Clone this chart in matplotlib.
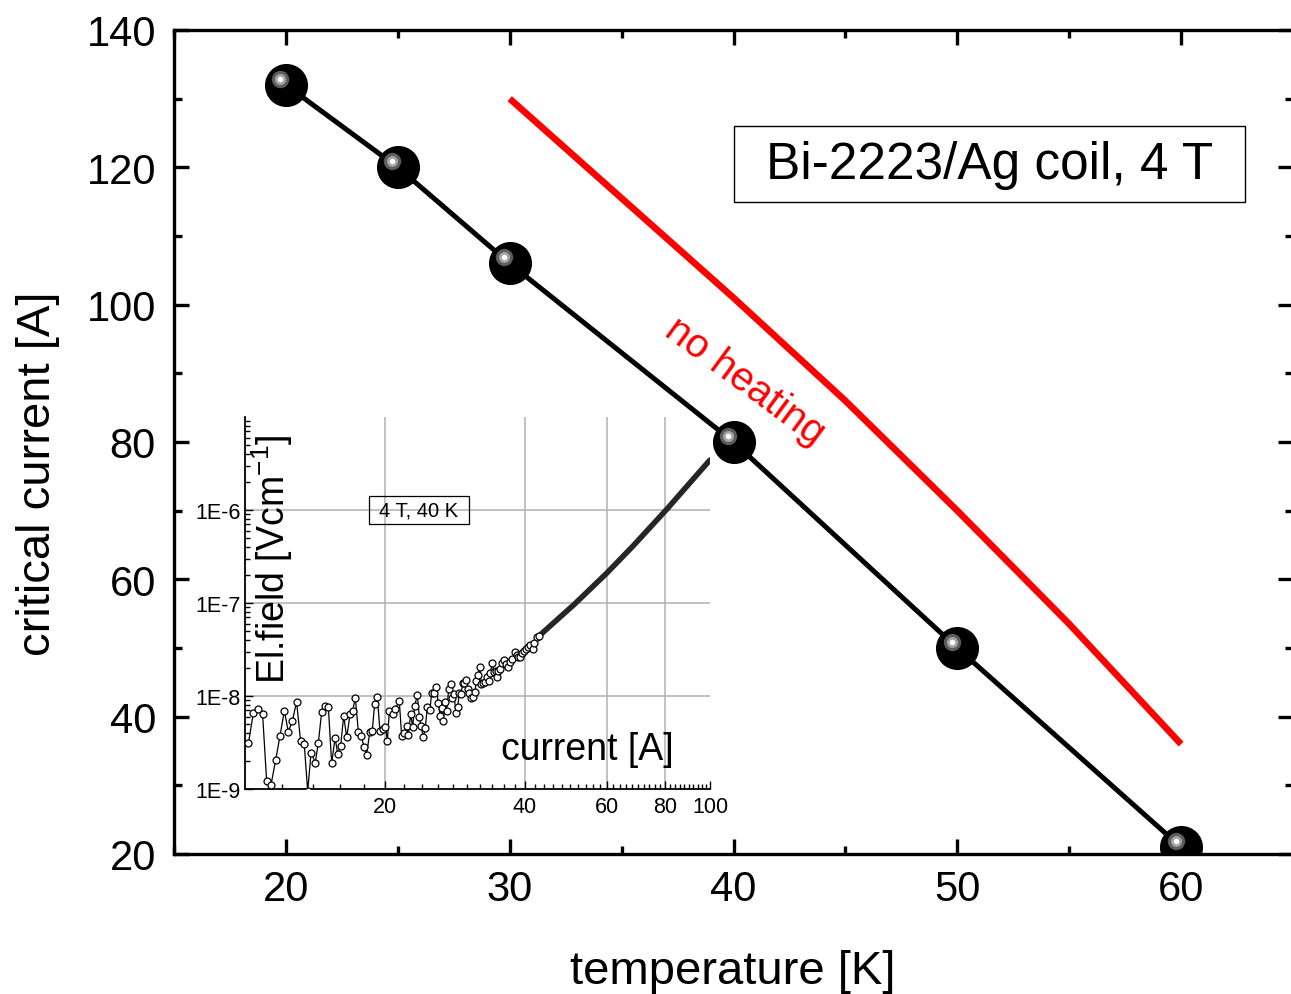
import matplotlib
matplotlib.use("Agg")
import matplotlib.pyplot as plt
import matplotlib.transforms as mtransforms
import numpy as np
from matplotlib.patches import Rectangle

plt.rcParams["font.family"] = ["Liberation Sans", "DejaVu Sans"]
plt.rcParams["mathtext.default"] = "regular"

# main plot: critical current vs temperature
temperature = [20, 25, 30, 40, 50, 60]
critical_current = [132, 120, 106, 80, 50, 21]

# "no heating" curve
nh_temperature = [30, 35, 40, 45, 50, 55, 60]
nh_current = [130, 115.5, 101, 86, 70, 53.5, 36]

# inset: E(I) at 4 T, 40 K  (field values in 1e-9 V/cm)
iv_current_noisy = [
    10.17, 10.42, 10.68, 10.91, 11.13, 11.37, 11.64, 11.89, 12.15, 12.39,
    12.64, 12.91, 13.17, 13.41, 13.64, 13.87, 14.16, 14.38, 14.62, 14.86,
    15.11, 15.36, 15.62, 15.83, 16.06, 16.30, 16.55, 16.82, 17.04, 17.27,
    17.53, 17.79, 18.03, 18.26, 18.54, 18.78, 19.00, 19.25, 19.51, 19.77,
    20.04, 20.24, 20.44,
    20.78, 21.02, 21.47, 21.72, 22.01, 22.27, 22.45, 22.71, 22.94, 23.17,
    23.47, 23.71, 23.90, 24.18, 24.42, 24.66, 24.99, 25.19, 25.54, 25.75,
    26.05, 26.27, 26.48, 26.70, 26.92, 27.15, 27.42, 27.69, 27.92, 28.15,
    28.43, 28.67, 28.91, 29.14, 29.39, 29.63, 29.92, 30.12, 30.37, 30.57,
    30.87, 31.23, 31.44, 31.70, 31.97, 32.23, 32.55, 32.87, 33.20, 33.42,
    33.65, 34.04, 34.26, 34.60, 34.77, 35.06, 35.35, 35.70, 36.06, 36.42,
    36.72, 37.15, 37.58, 38.07, 38.39, 38.71, 39.03, 39.36, 39.81, 40.21,
    40.61, 41.01, 41.56, 41.90, 42.39, 42.89,
]
iv_field_noisy_nV = [
    3.10, 6.51, 7.19, 6.40, 1.23, 1.10, 2.05, 3.71, 6.95, 4.14,
    5.34, 8.69, 3.25, 3.05, 0.94, 2.46, 1.92, 3.15, 6.78, 7.81,
    7.55, 1.89, 3.54, 2.38, 2.92, 6.10, 3.59, 6.35, 6.90, 9.60,
    4.14, 3.71, 2.81, 2.32, 4.07, 4.20, 8.20, 9.83, 4.24, 4.42,
    4.68, 3.31, 6.90,
    6.35, 7.19, 8.84, 3.71, 4.03, 4.76, 3.78, 6.35, 4.68, 7.81,
    10.3, 5.99, 4.76, 3.59, 4.53, 7.55, 7.01, 10.7, 10.7, 12.4,
    8.48, 6.14, 7.37, 5.38, 8.69, 6.95, 11.8, 13.4, 9.44, 10.5,
    6.51, 7.68, 10.9, 10.5, 13.7, 13.9, 14.9, 11.8, 10.9, 9.44,
    9.83, 11.1, 14.6, 16.8, 20.7, 13.4, 13.9, 14.3, 15.9, 14.5,
    17.5, 22.5, 18.3, 18.7, 16.1, 18.7, 19.3, 22.8, 24.4, 22.1,
    20.7, 23.4, 24.8, 29.5, 27.6, 26.0, 26.5, 28.8, 30.5, 32.3,
    33.9, 35.3, 31.8, 37.5, 42.7, 44.2,
]
iv_current_smooth = [42.89, 46.4, 51.1, 60.0, 68.3, 80.9, 89.7, 100.0]
iv_field_smooth = [4.42e-8, 6.3e-8, 9.7e-8, 2.1e-7, 4.1e-7, 1.03e-6, 1.86e-6, 3.45e-6]

main_xticks = [20, 30, 40, 50, 60]
main_yticks = [20, 40, 60, 80, 100, 120, 140]
inset_xticks = [20, 40, 60, 80, 100]
inset_xlabels = ["20", "40", "60", "80", "100"]
inset_yticks = [1e-9, 1e-8, 1e-7, 1e-6]
inset_ylabels = ["1E-9", "1E-8", "1E-7", "1E-6"]

W, H = 1291, 995
fig = plt.figure(figsize=(W / 100, H / 100), dpi=100)


def fx(px):
    return px / W


def fy(py):
    return 1 - py / H


# ---- main axes
ax = fig.add_axes([fx(174), fy(855), fx(1293) - fx(174), fy(31) - fy(855)])
ax.set_xlim(15, 65)
ax.set_ylim(20, 140)
ax.set_xticks(main_xticks)
ax.set_xticks([15, 25, 35, 45, 55, 65], minor=True)
ax.set_yticks(main_yticks)
ax.set_yticks([30, 50, 70, 90, 110, 130], minor=True)
for s in ax.spines.values():
    s.set_linewidth(2.4)
ax.tick_params(which="both", direction="in", top=True, right=True, width=2.4,
               labelsize=30)
ax.tick_params(which="major", length=11)
ax.tick_params(which="minor", length=6)
ax.tick_params(axis="x", pad=11)
ax.tick_params(axis="y", pad=13)

ax.plot(nh_temperature, nh_current, color="#ff0000", lw=4.8, zorder=2,
        solid_capstyle="butt")
ax.plot(temperature, critical_current, color="black", lw=3.6, zorder=3)
ax.plot(temperature, critical_current, "o", ms=30, color="black", zorder=4)

shift = mtransforms.ScaledTranslation(-5.5 / 100, 6.3 / 100, fig.dpi_scale_trans)
hl = ax.transData + shift
ax.plot(temperature, critical_current, "o", ms=12.5, color="#5c5c5c", mew=0,
        transform=hl, zorder=5)
ax.plot(temperature, critical_current, "o", ms=8, color="#a4a4a4", mew=0,
        transform=hl, zorder=6)
ax.plot(temperature, critical_current, "o", ms=4, color="white", mew=0,
        transform=hl, zorder=7)

fig.text(fx(745), fy(382), "no heating", color="#ff0000", fontsize=29,
         rotation=-36.5, ha="center", va="center", rotation_mode="anchor")

fig.patches.append(Rectangle((fx(734), fy(203)), fx(1245) - fx(734),
                             fy(127) - fy(203), transform=fig.transFigure,
                             fill=False, edgecolor="black", lw=1.0))
fig.text(fx(990), fy(166), "Bi-2223/Ag coil, 4 T", fontsize=37,
         ha="center", va="center")

fig.text(fx(733), fy(984), "temperature [K]", fontsize=34, ha="center",
         va="baseline")
fig.text(fx(50), fy(474), "critical current [A]", fontsize=34, rotation=90,
         ha="center", va="baseline", rotation_mode="anchor")

# ---- inset axes
ai = fig.add_axes([fx(245), fy(790), fx(710) - fx(245), fy(418) - fy(790)])
ai.set_facecolor("none")
ai.set_xscale("log")
ai.set_yscale("log")
ai.set_xlim(10, 100)
ai.set_ylim(1e-9, 1e-5)
ai.spines["top"].set_visible(False)
ai.spines["right"].set_visible(False)
for s in ("left", "bottom"):
    ai.spines[s].set_linewidth(1.3)
ai.set_xticks(inset_xticks, inset_xlabels)
ai.set_xticks([v for v in range(12, 100, 2) if v % 20], minor=True)
ai.set_yticks(inset_yticks, inset_ylabels)
ai.set_yticks([k * 10.0 ** e for e in range(-9, -5) for k in range(2, 10)],
              minor=True)
ai.xaxis.set_minor_formatter(plt.NullFormatter())
ai.yaxis.set_minor_formatter(plt.NullFormatter())
ai.tick_params(which="both", direction="in", width=1.0, labelsize=15.5)
ai.tick_params(which="major", length=6)
ai.tick_params(which="minor", length=3.5)
ai.tick_params(axis="x", pad=5)
ai.tick_params(axis="y", pad=3)

for v in inset_xticks[:-1]:
    ai.axvline(v, color="#b0b0b0", lw=1.1, zorder=0)
for v in inset_yticks[1:]:
    ai.axhline(v, color="#b0b0b0", lw=1.1, zorder=0)

ai.plot(iv_current_smooth, iv_field_smooth, color="#262626", lw=4.0,
        solid_capstyle="round", solid_joinstyle="round", zorder=3)
ai.plot(iv_current_noisy, np.array(iv_field_noisy_nV) * 1e-9, "-o",
        color="black", lw=0.9, ms=5, mfc="white", mec="black", mew=0.9,
        zorder=4)

ai.text((272 - 245) / 465, (790 - 559) / 372, "El.field [Vcm$^{-1}$]",
        transform=ai.transAxes, fontsize=27, rotation=90, ha="center",
        va="center")
ai.text((587 - 245) / 465, (790 - 750) / 372, "current [A]",
        transform=ai.transAxes, fontsize=27, ha="center", va="center")

ai.add_patch(Rectangle(((369 - 245) / 465, (790 - 525) / 372), 100 / 465,
                       28 / 372, transform=ai.transAxes, fill=False,
                       edgecolor="black", lw=0.9, zorder=5))
ai.text((419 - 245) / 465, (790 - 511) / 372, "4 T, 40 K",
        transform=ai.transAxes, fontsize=14.5, ha="center", va="center",
        zorder=6)

fig.savefig("out.png", dpi=100)
